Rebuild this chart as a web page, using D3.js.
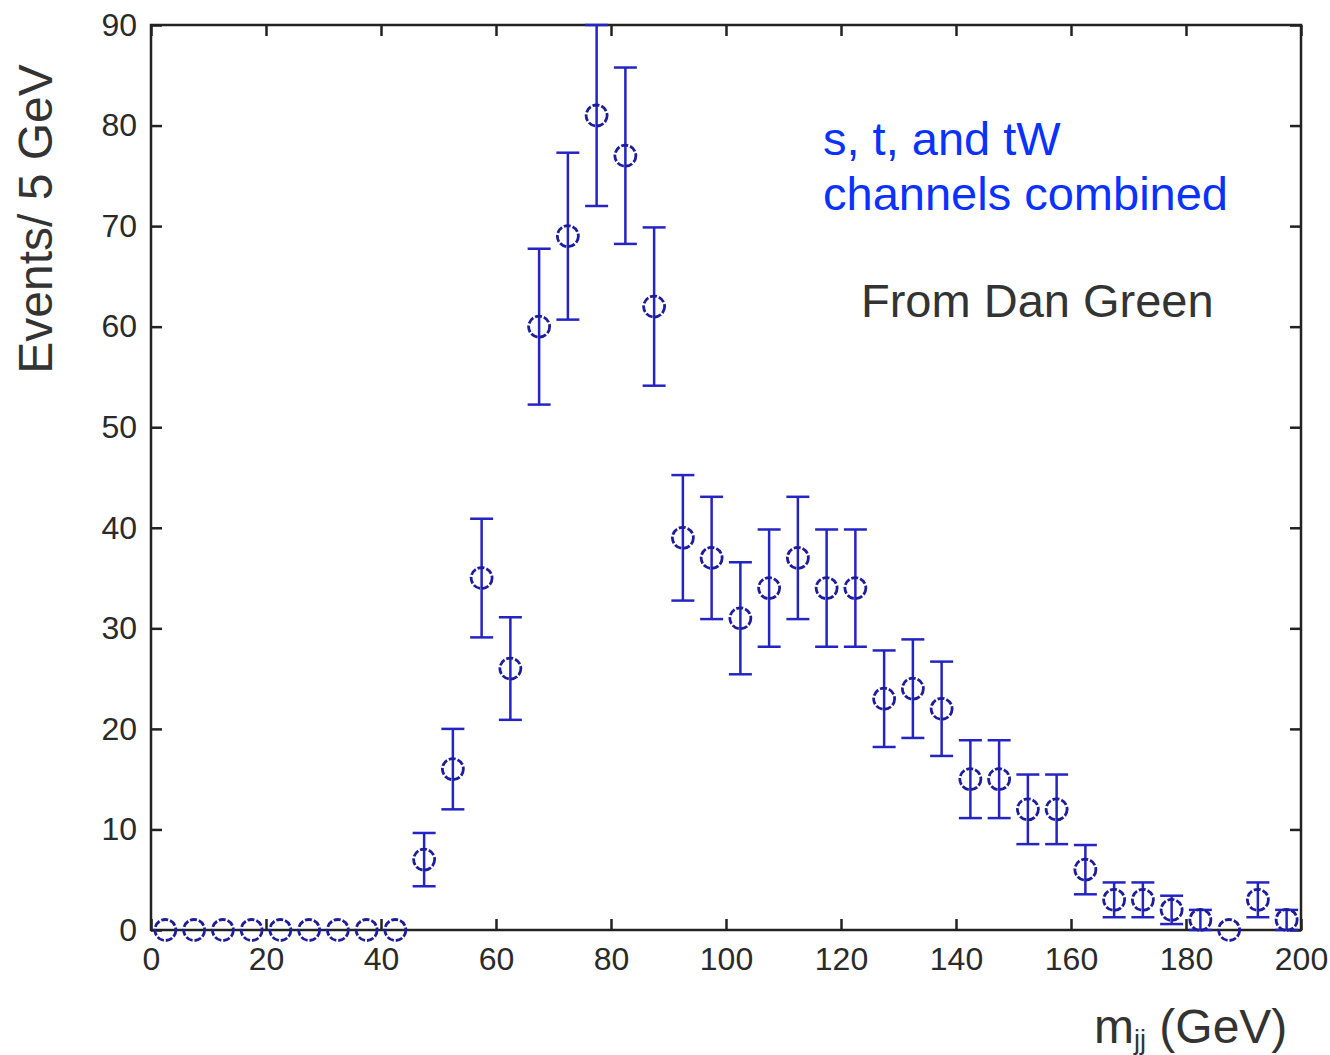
<!DOCTYPE html>
<html>
<head>
<meta charset="utf-8">
<script src="https://cdn.jsdelivr.net/npm/d3@7"></script>
<style>
  html, body { margin: 0; padding: 0; background: #fff; }
  svg { display: block; }
</style>
</head>
<body>
<svg id="chart" width="1330" height="1055"></svg>
<script>
// Dijet invariant mass, 5 GeV bins
const binCenters = [2.5, 7.5, 12.5, 17.5, 22.5, 27.5, 32.5, 37.5, 42.5, 47.5,
  52.5, 57.5, 62.5, 67.5, 72.5, 77.5, 82.5, 87.5, 92.5, 97.5,
  102.5, 107.5, 112.5, 117.5, 122.5, 127.5, 132.5, 137.5, 142.5, 147.5,
  152.5, 157.5, 162.5, 167.5, 172.5, 177.5, 182.5, 187.5, 192.5, 197.5];
const events = [0, 0, 0, 0, 0, 0, 0, 0, 0, 7,
  16, 35, 26, 60, 69, 81, 77, 62, 39, 37,
  31, 34, 37, 34, 34, 23, 24, 22, 15, 15,
  12, 12, 6, 3, 3, 2, 1, 0, 3, 1];
const errors = [0, 0, 0, 0, 0, 0, 0, 0, 0, 2.65,
  4, 5.9, 5.1, 7.75, 8.3, 9, 8.77, 7.87, 6.24, 6.08,
  5.57, 5.83, 6.08, 5.83, 5.83, 4.8, 4.9, 4.69, 3.87, 3.87,
  3.46, 3.46, 2.45, 1.73, 1.73, 1.41, 1, 0, 1.73, 1];
const xTicks = [0, 20, 40, 60, 80, 100, 120, 140, 160, 180, 200];
const yTicks = [0, 10, 20, 30, 40, 50, 60, 70, 80, 90];

const svg = d3.select("#chart");
const plotL = 151, plotR = 1301, plotT = 25, plotB = 930;

const x = d3.scaleLinear().domain([0, 200]).range([plotL, plotR]);
const y = d3.scaleLinear().domain([0, 90]).range([plotB, plotT]);

const axisColor = "#222";
const tickFont = "'Liberation Sans', Arial, sans-serif";
const tickLen = 11;

// frame box
svg.append("rect")
  .attr("x", plotL).attr("y", plotT)
  .attr("width", plotR - plotL).attr("height", plotB - plotT)
  .attr("fill", "none").attr("stroke", axisColor).attr("stroke-width", 2.5);

function styleAxis(g) {
  g.select(".domain").remove();
  g.selectAll(".tick line").attr("stroke", axisColor).attr("stroke-width", 2.5);
  g.selectAll(".tick text")
    .attr("fill", "#2a2a2a")
    .style("font-family", tickFont)
    .style("font-size", "32px");
}

// bottom axis with labels, ticks drawn inward
svg.append("g")
  .attr("transform", `translate(0,${plotB})`)
  .call(d3.axisBottom(x).tickValues(xTicks).tickFormat(d3.format("d"))
    .tickSizeInner(-tickLen).tickSizeOuter(0).tickPadding(tickLen + 6))
  .call(styleAxis);

// top axis, ticks only
svg.append("g")
  .attr("transform", `translate(0,${plotT})`)
  .call(d3.axisTop(x).tickValues(xTicks).tickFormat("")
    .tickSizeInner(-tickLen).tickSizeOuter(0))
  .call(styleAxis);

// left axis with labels
svg.append("g")
  .attr("transform", `translate(${plotL},0)`)
  .call(d3.axisLeft(y).tickValues(yTicks).tickFormat(d3.format("d"))
    .tickSizeInner(-tickLen).tickSizeOuter(0).tickPadding(tickLen + 3))
  .call(styleAxis);

// right axis, ticks only
svg.append("g")
  .attr("transform", `translate(${plotR},0)`)
  .call(d3.axisRight(y).tickValues(yTicks).tickFormat("")
    .tickSizeInner(-tickLen).tickSizeOuter(0))
  .call(styleAxis);

const data = binCenters.map((c, i) => ({ c, v: events[i], e: errors[i] }));
const barColor = "#2424c4";
const markColor = "#1c1c9c";
const capHalf = x(2) - x(0);

// error bars
const bars = svg.append("g").attr("stroke", barColor).attr("stroke-width", 2.5).attr("fill", "none");
const withErr = data.filter(d => d.e > 0);
bars.selectAll("line.v").data(withErr).join("line")
  .attr("class", "v")
  .attr("x1", d => x(d.c)).attr("x2", d => x(d.c))
  .attr("y1", d => y(Math.min(90, d.v + d.e))).attr("y2", d => y(d.v - d.e));
bars.selectAll("line.cap-hi").data(withErr.filter(d => d.v + d.e <= 90)).join("line")
  .attr("class", "cap-hi")
  .attr("x1", d => x(d.c) - capHalf).attr("x2", d => x(d.c) + capHalf)
  .attr("y1", d => y(d.v + d.e)).attr("y2", d => y(d.v + d.e));
bars.selectAll("line.cap-lo").data(withErr).join("line")
  .attr("class", "cap-lo")
  .attr("x1", d => x(d.c) - capHalf).attr("x2", d => x(d.c) + capHalf)
  .attr("y1", d => y(d.v - d.e)).attr("y2", d => y(d.v - d.e));

// open circle markers
svg.append("g").selectAll("circle").data(data).join("circle")
  .attr("cx", d => x(d.c)).attr("cy", d => y(d.v))
  .attr("r", 10.5)
  .attr("fill", "none")
  .attr("stroke", markColor)
  .attr("stroke-width", 2.8)
  .attr("stroke-dasharray", "7 2");

const textFont = "'Liberation Sans', Arial, sans-serif";

// annotations
svg.append("text").attr("x", 823).attr("y", 155)
  .attr("fill", "#0a32ff").style("font-family", textFont).style("font-size", "47px")
  .text("s, t, and tW");
svg.append("text").attr("x", 823).attr("y", 210)
  .attr("fill", "#0a32ff").style("font-family", textFont).style("font-size", "47px")
  .text("channels combined");
svg.append("text").attr("x", 861).attr("y", 317)
  .attr("fill", "#333").style("font-family", textFont).style("font-size", "47px")
  .text("From Dan Green");

// axis titles
svg.append("text")
  .attr("transform", "translate(52,219) rotate(-90)")
  .attr("text-anchor", "middle")
  .attr("fill", "#333").style("font-family", textFont).style("font-size", "48px")
  .text("Events/ 5 GeV");

const xt = svg.append("text").attr("x", 1094).attr("y", 1043)
  .attr("fill", "#333").style("font-family", textFont).style("font-size", "48px");
xt.append("tspan").text("m");
xt.append("tspan").attr("dy", 6).style("font-size", "27px").text("jj");
xt.append("tspan").attr("dy", -6).text(" (GeV)");
</script>
</body>
</html>
